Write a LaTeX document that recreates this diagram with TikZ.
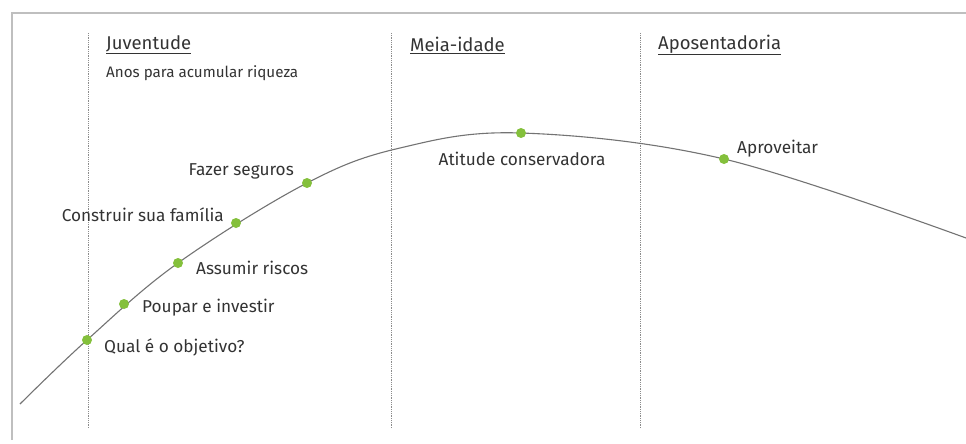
\documentclass[tikz,border=0pt]{standalone}
\usepackage{fontspec}
\setmainfont{Fira Sans}
\begin{document}
\begin{tikzpicture}[x=1pt,y=-1pt,
  frameline/.style={draw=black!25,line width=1.6pt},
  divider/.style={draw=black!45,densely dotted,line width=0.8pt},
  curveline/.style={draw=black!55,line width=1.1pt},
  dot/.style={circle,inner sep=0pt,minimum size=10pt},
  lbl/.style={text=black!80,font=\fontsize{17.2}{19}\selectfont,inner sep=0pt},
  hdr/.style={text=black!80,font=\fontsize{18.5}{21}\selectfont,inner sep=0pt,anchor=west},
  sub/.style={text=black!80,font=\fontsize{15.2}{17}\selectfont,inner sep=0pt,anchor=west}]
\useasboundingbox (0,0) rectangle (966,444);
\definecolor{dotgreen}{RGB}{132,192,60}
% frame
\coordinate (fbl) at (12,440);
\coordinate (ftl) at (12,13);
\coordinate (ftr) at (966,13);
\draw[frameline] (fbl) -- (ftl) -- (ftr);
% dividers
\coordinate (v1t) at (88,33);  \coordinate (v1b) at (88,428);
\coordinate (v2t) at (391,33); \coordinate (v2b) at (391,428);
\coordinate (v3t) at (640,33); \coordinate (v3b) at (640,428);
\draw[divider] (v1t) -- (v1b);
\draw[divider] (v2t) -- (v2b);
\draw[divider] (v3t) -- (v3b);
% headers
\node[hdr] (h1) at (106,45) {\underline{Juventude}};
\node[sub] (s1) at (106,73) {Anos para acumular riqueza};
\node[hdr] (h2) at (410,45) {\underline{Meia-idade}};
\node[hdr] (h3) at (658,45) {\underline{Aposentadoria}};
% curve points
\coordinate (c0) at (20,404);
\coordinate (p1) at (87,340);
\coordinate (p2) at (124,304);
\coordinate (p3) at (178,263);
\coordinate (p4) at (236,223);
\coordinate (p5) at (307,183);
\coordinate (cm) at (400,148);
\coordinate (p6) at (521,133);
\coordinate (p7) at (724,159);
\coordinate (cr) at (966,238);
\draw[curveline] plot[smooth,tension=0.6] coordinates {(c0) (p1) (p3) (p5) (cm) (p6) (p7) (cr)};
% dots
\foreach \p in {p1,p2,p3,p4,p5,p6,p7}
  \node[dot,fill=dotgreen] (d\p) at (\p) {};
% labels
\node[lbl,anchor=west] (l1) at (104,347) {Qual é o objetivo?};
\node[lbl,anchor=west] (l2) at (142,308) {Poupar e investir};
\node[lbl,anchor=west] (l3) at (196,268) {Assumir riscos};
\node[lbl,anchor=east] (l4) at (224,215) {Construir sua família};
\node[lbl,anchor=east] (l5) at (294,171) {Fazer seguros};
\node[lbl] (l6) at (522,159) {Atitude conservadora};
\node[lbl,anchor=west] (l7) at (737,149) {Aproveitar};
\end{tikzpicture}
\end{document}
